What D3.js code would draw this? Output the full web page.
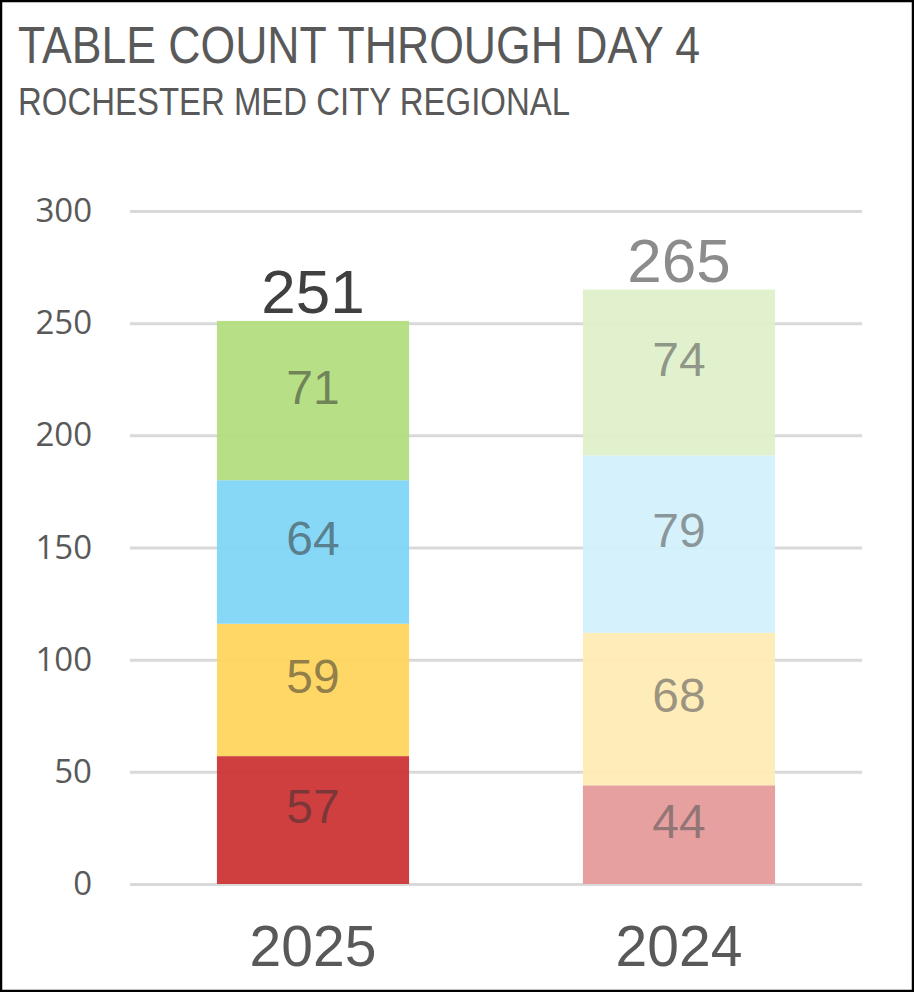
<!DOCTYPE html>
<html>
<head>
<meta charset="utf-8">
<script src="https://cdn.jsdelivr.net/npm/d3@7"></script>
<style>
  html, body { margin: 0; padding: 0; background: #fff; }
  svg { display: block; }
</style>
</head>
<body>
<div id="chart"></div>
<script>
// chart data
var years = ["2025", "2024"];
var segments = ["red", "yellow", "blue", "green"];
var counts2025 = [57, 59, 64, 71];
var counts2024 = [44, 68, 79, 74];
var yTicks = [0, 50, 100, 150, 200, 250, 300];

var colors = {
  "2025": ["#cc3333", "#fed55c", "#80d6f6", "#b2dd7e"],
  "2024": ["#e59a9a", "#feebb5", "#d2f0fb", "#dff0cb"]
};

var W = 914, H = 992;
var svg = d3.select("#chart").append("svg")
    .attr("width", W)
    .attr("height", H);

svg.append("rect")
    .attr("x", 1).attr("y", 1)
    .attr("width", W - 2).attr("height", H - 2)
    .attr("fill", "#fff")
    .attr("stroke", "#000")
    .attr("stroke-width", 2.5);

// titles (condensed look via textLength)
svg.append("text")
    .attr("x", 18).attr("y", 63)
    .attr("font-family", "'Liberation Sans', sans-serif")
    .attr("font-size", 51)
    .attr("fill", "#595959")
    .attr("textLength", 682)
    .attr("lengthAdjust", "spacingAndGlyphs")
    .text("TABLE COUNT THROUGH DAY 4");

svg.append("text")
    .attr("x", 18).attr("y", 115)
    .attr("font-family", "'Liberation Sans', sans-serif")
    .attr("font-size", 39)
    .attr("fill", "#595959")
    .attr("textLength", 552)
    .attr("lengthAdjust", "spacingAndGlyphs")
    .text("ROCHESTER MED CITY REGIONAL");

var x = d3.scaleBand()
    .domain(years)
    .range([130, 862])
    .paddingInner(0.475)
    .paddingOuter(0.2375);

var y = d3.scaleLinear()
    .domain([0, 300])
    .range([884, 211]);

// gridlines + tick labels
var yAxis = d3.axisLeft(y)
    .tickValues(yTicks)
    .tickSize(-(862 - 130))
    .tickPadding(38);

var ga = svg.append("g")
    .attr("transform", "translate(130,0)")
    .call(yAxis);
ga.select(".domain").remove();
ga.selectAll(".tick line")
    .attr("stroke", "#d9d9d9")
    .attr("stroke-width", 3);
ga.selectAll(".tick text")
    .attr("font-family", "'Open Sans', sans-serif")
    .attr("font-size", 33)
    .attr("fill", "#595959");

// stacks
var table = segments.map(function(s, i) {
  return { seg: s, "2025": counts2025[i], "2024": counts2024[i] };
});

years.forEach(function(yr) {
  var vals = table.map(function(d) { return d[yr]; });
  var start = 0;
  var stack = vals.map(function(v, i) {
    var s = { y0: start, y1: start + v, v: v, i: i };
    start += v;
    return s;
  });
  var g = svg.append("g").attr("class", "bar-" + yr);

  g.selectAll("rect")
    .data(stack)
    .join("rect")
    .attr("x", x(yr))
    .attr("width", x.bandwidth())
    .attr("y", function(d) { return y(d.y1); })
    .attr("height", function(d) { return y(d.y0) - y(d.y1); })
    .attr("fill", function(d) { return colors[yr][d.i]; })
    .attr("fill-opacity", 0.94);

  g.selectAll("text.seg")
    .data(stack)
    .join("text")
    .attr("class", "seg")
    .attr("x", x(yr) + x.bandwidth() / 2)
    .attr("y", function(d) { return (y(d.y0) + y(d.y1)) / 2 - 14; })
    .attr("dy", "0.36em")
    .attr("text-anchor", "middle")
    .attr("font-family", "'Liberation Sans', Arial, sans-serif")
    .attr("font-size", 48)
    .attr("fill", yr === "2025" ? "#333" : "#595959")
    .attr("fill-opacity", yr === "2025" ? 0.55 : 0.6)
    .text(function(d) { return d.v; });

  // total
  g.append("text")
    .attr("x", x(yr) + x.bandwidth() / 2)
    .attr("y", y(start) - 8)
    .attr("text-anchor", "middle")
    .attr("font-family", "'Liberation Sans', Arial, sans-serif")
    .attr("font-size", 62)
    .attr("fill", yr === "2025" ? "#404040" : "#8c8c8c")
    .text(start);
});

// category axis
var xAxis = d3.axisBottom(x).tickSize(0).tickPadding(0);
var gx = svg.append("g")
    .attr("transform", "translate(0,966)")
    .call(xAxis);
gx.select(".domain").remove();
gx.selectAll(".tick text")
    .attr("dy", 0)
    .attr("font-family", "'Liberation Sans', Arial, sans-serif")
    .attr("font-size", 57)
    .attr("fill", "#595959");
</script>
</body>
</html>
